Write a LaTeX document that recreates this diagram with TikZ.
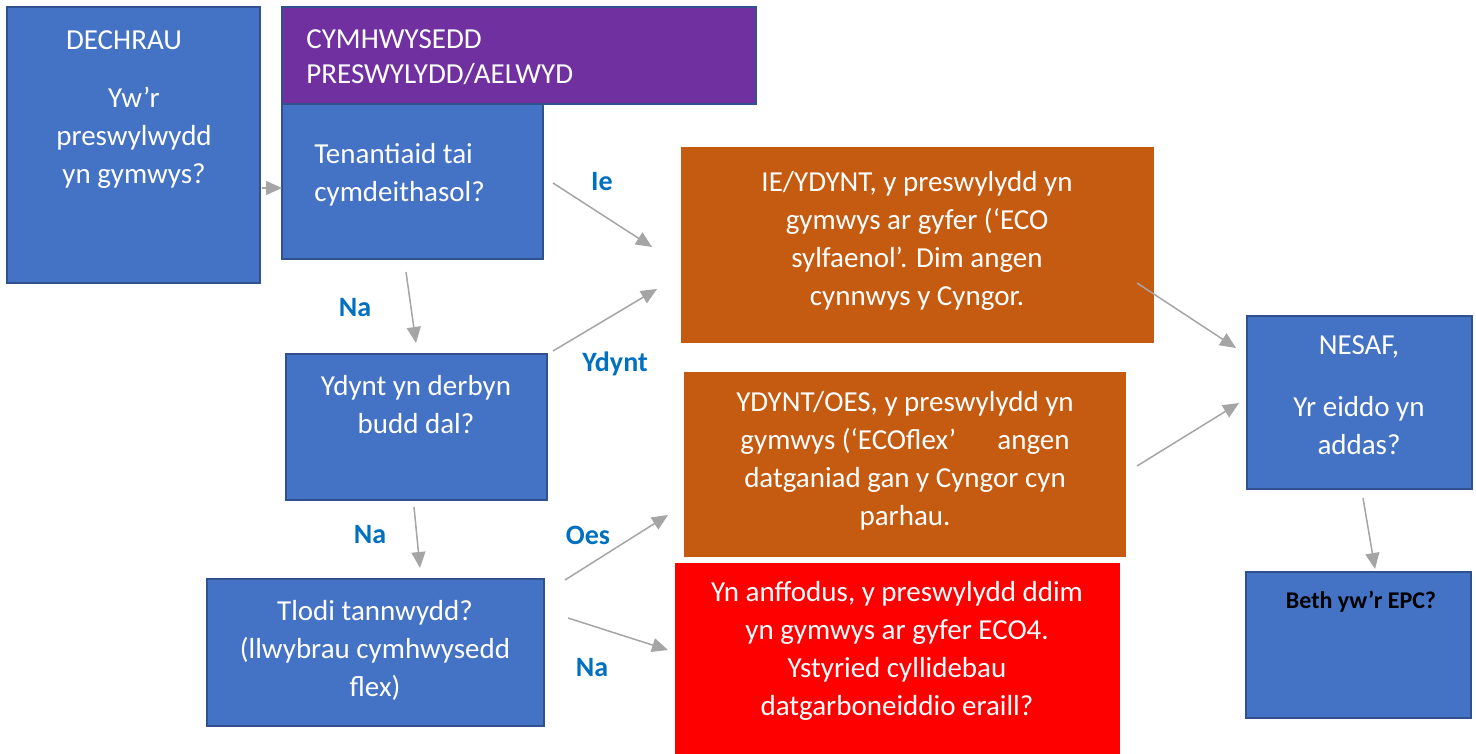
\documentclass[tikz,border=0pt]{standalone}
\usepackage{fontspec}
\setmainfont{Carlito}
\usetikzlibrary{arrows.meta,fit}
\definecolor{boxblue}{HTML}{4472C4}
\definecolor{bordblue}{HTML}{2F528F}
\definecolor{purp}{HTML}{7030A0}
\definecolor{orng}{HTML}{C55A11}
\definecolor{redbox}{HTML}{FF0000}
\definecolor{arrgray}{HTML}{A5A5A5}
\definecolor{lblblue}{HTML}{0070C0}
\tikzset{
  bluebox/.style={draw=bordblue, fill=boxblue, line width=1pt, inner sep=0pt},
  purpbox/.style={draw=bordblue, fill=purp, line width=0.8pt, inner sep=0pt},
  orbox/.style={fill=orng, inner sep=0pt},
  rdbox/.style={fill=redbox, inner sep=0pt},
  txt/.style={text=white, font=\fontsize{14.5}{19}\selectfont, align=center, inner sep=0pt},
  ltxt/.style={txt, align=left, anchor=west},
  lbl/.style={text=lblblue, font=\fontsize{14}{17}\selectfont\bfseries, inner sep=0pt},
  arr/.style={draw=arrgray, line width=0.75pt, -{Triangle[length=8pt,width=7pt]}}
}
\begin{document}
\begin{tikzpicture}[x=0.5pt,y=-0.5pt]
\useasboundingbox (0,0) rectangle (1476,754);
% boxes
\node[bluebox, fit={(7,7)(260,283)}] (start) {};
\node[purpbox, fit={(282,7)(756,104)}] (head) {};
\node[bluebox, fit={(282,104)(543,259)}] (tenant) {};
\node[bluebox, fit={(286,354)(547,500)}] (budd) {};
\node[bluebox, fit={(207,579)(544,726)}] (tlodi) {};
\node[orbox, fit={(681,147)(1154,343)}] (eco) {};
\node[orbox, fit={(684,372)(1126,557)}] (flex) {};
\node[rdbox, fit={(675,563)(1120,754)}] (nope) {};
\node[bluebox, fit={(1247,316)(1472,489)}] (nesaf) {};
\node[bluebox, fit={(1246,572)(1471,718)}] (epc) {};
% texts
\node[txt] (tdech) at (124,40) {DECHRAU};
\node[txt] (tyw) at (134,138) {Yw’r\\preswylwydd\\yn gymwys?};
\node[ltxt, font=\fontsize{14.5}{17.5}\selectfont] (thead) at (306,57) {CYMHWYSEDD\\PRESWYLYDD/AELWYD};
\node[ltxt] (tten) at (314,175) {Tenantiaid tai\\cymdeithasol?};
\node[txt] (tbudd) at (416,405) {Ydynt yn derbyn\\budd dal?};
\node[txt] (ttlodi) at (375,650) {Tlodi tannwydd?\\(llwybrau cymhwysedd\\flex)};
\node[txt] (teco) at (917,241) {IE/YDYNT, y preswylydd yn\\gymwys ar gyfer (‘ECO\\sylfaenol’. Dim angen\\cynnwys y Cyngor.};
\node[txt] (tflex) at (905,461) {YDYNT/OES, y preswylydd yn\\gymwys (‘ECOflex’\hspace{1.2em} angen\\datganiad gan y Cyngor cyn\\parhau.};
\node[txt] (tnope) at (897,651) {Yn anffodus, y preswylydd ddim\\yn gymwys ar gyfer ECO4.\\Ystyried cyllidebau\\datgarboneiddio eraill?};
\node[txt] (tnes1) at (1359,347) {NESAF,};
\node[txt] (tnes2) at (1359,426) {Yr eiddo yn\\addas?};
\node[inner sep=0pt, font=\fontsize{12}{14}\selectfont\bfseries] (tepc) at (1361,602) {Beth yw’r EPC?};
% labels
\node[lbl] (lie) at (602,182) {Ie};
\node[lbl] (lna1) at (355,308) {Na};
\node[lbl] (lydynt) at (615,364) {Ydynt};
\node[lbl] (lna2) at (370,535) {Na};
\node[lbl] (loes) at (588,535) {Oes};
\node[lbl] (lna3) at (592,668) {Na};
% arrow end points
\coordinate (a1s) at (262,188); \coordinate (a1e) at (282,188);
\coordinate (a2s) at (553,183); \coordinate (a2e) at (652,247);
\coordinate (a3s) at (553,351); \coordinate (a3e) at (657,289);
\coordinate (a4s) at (406,272); \coordinate (a4e) at (416,343);
\coordinate (a5s) at (414,507); \coordinate (a5e) at (420,568);
\coordinate (a6s) at (565,580); \coordinate (a6e) at (668,515);
\coordinate (a7s) at (568,618); \coordinate (a7e) at (668,650);
\coordinate (a8s) at (1137,283); \coordinate (a8e) at (1236,348);
\coordinate (a9s) at (1137,466); \coordinate (a9e) at (1239,403);
\coordinate (a10s) at (1363,498); \coordinate (a10e) at (1375,569);
\draw[arr] (a1s) -- (a1e);
\draw[arr] (a2s) -- (a2e);
\draw[arr] (a3s) -- (a3e);
\draw[arr] (a4s) -- (a4e);
\draw[arr] (a5s) -- (a5e);
\draw[arr] (a6s) -- (a6e);
\draw[arr] (a7s) -- (a7e);
\draw[arr] (a8s) -- (a8e);
\draw[arr] (a9s) -- (a9e);
\draw[arr] (a10s) -- (a10e);
\end{tikzpicture}
\end{document}
